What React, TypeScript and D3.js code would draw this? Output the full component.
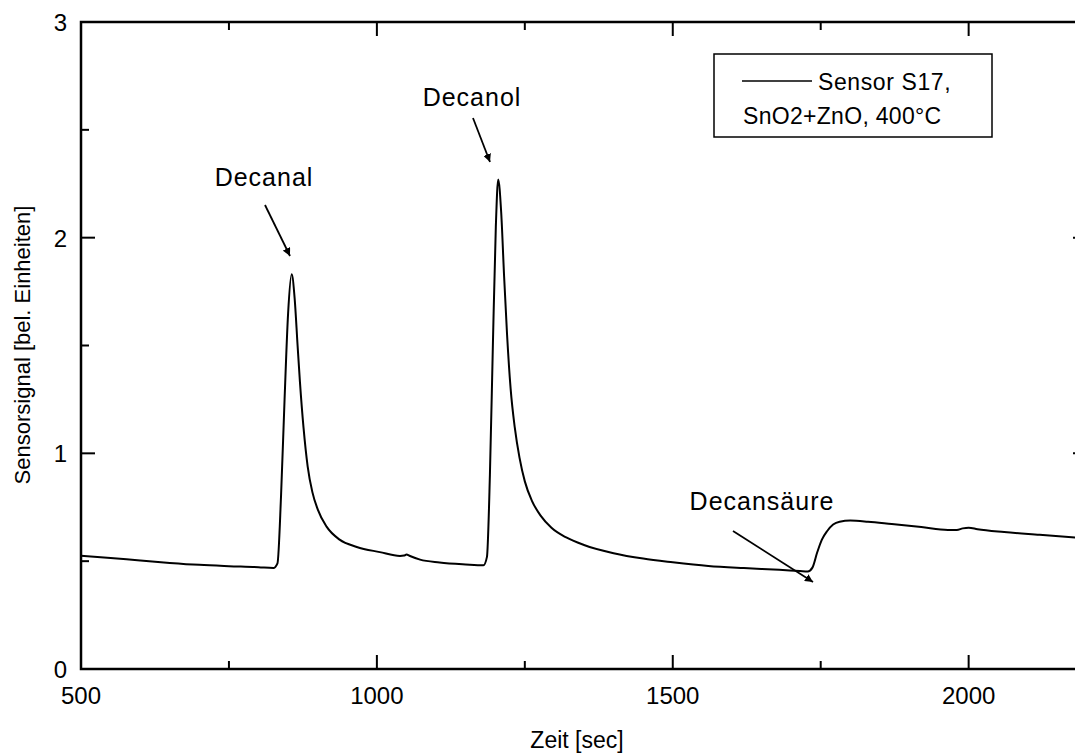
import { useRef, useEffect } from 'react';
import * as d3 from 'd3';

// time [sec]
const zeit = [
  500, 550, 600, 650, 700, 750, 800, 825, 832, 838, 844, 850, 856, 861, 866, 870, 876, 883, 891, 900,
  915, 937, 966, 1005, 1039, 1046, 1050, 1056, 1073, 1106, 1150, 1180, 1186, 1191, 1196, 1201, 1205,
  1210, 1215, 1220, 1226, 1233, 1241, 1250, 1262, 1277, 1295, 1320, 1350, 1400, 1450, 1500, 1560,
  1620, 1680, 1715, 1728, 1736, 1744, 1752, 1761, 1771, 1782, 1800, 1830, 1870, 1920, 1965, 1980,
  1990, 2000, 2015, 2060, 2120, 2200,
];
// sensor signal
const signal = [
  0.525, 0.515, 0.503, 0.492, 0.483, 0.477, 0.472, 0.468, 0.49, 0.8, 1.25, 1.65, 1.83, 1.72, 1.5, 1.33,
  1.12, 0.94, 0.82, 0.74, 0.66, 0.6, 0.566, 0.542, 0.524, 0.526, 0.531, 0.524, 0.507, 0.494, 0.485,
  0.481, 0.52, 0.9, 1.5, 2.05, 2.27, 2.12, 1.82, 1.55, 1.3, 1.12, 0.98, 0.87, 0.78, 0.71, 0.655, 0.61,
  0.575, 0.537, 0.512, 0.495, 0.478, 0.468, 0.46, 0.454, 0.452, 0.47, 0.54, 0.6, 0.64, 0.67, 0.683,
  0.688, 0.683, 0.672, 0.658, 0.645, 0.645, 0.652, 0.655, 0.648, 0.635, 0.622, 0.605,
];

const xTicks = [500, 1000, 1500, 2000];
const xMinor = [750, 1250, 1750];
const yTicks = [0, 1, 2, 3];
const yMinor = [0.5, 1.5, 2.5];

const Chart = () => {
  const ref = useRef<SVGSVGElement>(null);

  useEffect(() => {
    const width = 1075;
    const height = 754;
    const margin = { top: 22, right: -12, bottom: 85, left: 81 };
    const innerWidth = width - margin.left - margin.right;
    const innerHeight = height - margin.top - margin.bottom;
    const font = 'Liberation Sans, Arial, sans-serif';

    const svg = d3.select(ref.current);
    svg.selectAll('*').remove();

    const defs = svg.append('defs');
    defs.append('marker')
      .attr('id', 'arrow')
      .attr('viewBox', '0 0 10 10')
      .attr('refX', 10)
      .attr('refY', 5)
      .attr('markerWidth', 8)
      .attr('markerHeight', 8)
      .attr('markerUnits', 'userSpaceOnUse')
      .attr('orient', 'auto')
      .append('path')
      .attr('d', 'M0,0 L10,5 L0,10 z')
      .attr('fill', '#000');
    defs.append('clipPath')
      .attr('id', 'plot-clip')
      .append('rect')
      .attr('width', innerWidth)
      .attr('height', innerHeight);

    const g = svg.append('g')
      .attr('transform', `translate(${margin.left},${margin.top})`);

    const x = d3.scaleLinear().domain([500, 2200]).range([0, innerWidth]);
    const y = d3.scaleLinear().domain([0, 3]).range([innerHeight, 0]);

    // curve
    const pts = zeit.map((t, i) => [t, signal[i]] as [number, number]);
    const line = d3.line<[number, number]>()
      .x(d => x(d[0]))
      .y(d => y(d[1]))
      .curve(d3.curveMonotoneX);
    g.append('path')
      .datum(pts)
      .attr('clip-path', 'url(#plot-clip)')
      .attr('d', line)
      .attr('fill', 'none')
      .attr('stroke', '#000')
      .attr('stroke-width', 2);

    // frame
    g.append('rect')
      .attr('width', innerWidth)
      .attr('height', innerHeight)
      .attr('fill', 'none')
      .attr('stroke', '#000')
      .attr('stroke-width', 2.5);

    const tickStyle = (sel: any) => sel.attr('stroke', '#000').attr('stroke-width', 2);

    // x ticks, bottom and top, pointing inward
    xTicks.forEach(v => {
      g.append('line').attr('x1', x(v)).attr('x2', x(v)).attr('y1', innerHeight).attr('y2', innerHeight - 14).call(tickStyle);
      g.append('line').attr('x1', x(v)).attr('x2', x(v)).attr('y1', 0).attr('y2', 14).call(tickStyle);
      g.append('text')
        .attr('x', x(v))
        .attr('y', innerHeight + 35)
        .attr('text-anchor', 'middle')
        .attr('font-family', font)
        .attr('font-size', 24)
        .text(v);
    });
    xMinor.forEach(v => {
      g.append('line').attr('x1', x(v)).attr('x2', x(v)).attr('y1', innerHeight).attr('y2', innerHeight - 8).call(tickStyle);
      g.append('line').attr('x1', x(v)).attr('x2', x(v)).attr('y1', 0).attr('y2', 8).call(tickStyle);
    });

    // y ticks, left and right
    yTicks.forEach(v => {
      g.append('line').attr('x1', 0).attr('x2', 14).attr('y1', y(v)).attr('y2', y(v)).call(tickStyle);
      g.append('line').attr('x1', innerWidth).attr('x2', innerWidth - 14).attr('y1', y(v)).attr('y2', y(v)).call(tickStyle);
      g.append('text')
        .attr('x', -14)
        .attr('y', y(v) + 9)
        .attr('text-anchor', 'end')
        .attr('font-family', font)
        .attr('font-size', 24)
        .text(v);
    });
    yMinor.forEach(v => {
      g.append('line').attr('x1', 0).attr('x2', 8).attr('y1', y(v)).attr('y2', y(v)).call(tickStyle);
      g.append('line').attr('x1', innerWidth).attr('x2', innerWidth - 8).attr('y1', y(v)).attr('y2', y(v)).call(tickStyle);
    });

    // axis titles
    svg.append('text')
      .attr('x', 577)
      .attr('y', 748)
      .attr('text-anchor', 'middle')
      .attr('font-family', font)
      .attr('font-size', 23)
      .text('Zeit [sec]');
    svg.append('text')
      .attr('transform', 'translate(30,345) rotate(-90)')
      .attr('text-anchor', 'middle')
      .attr('font-family', font)
      .attr('font-size', 22)
      .text('Sensorsignal [bel. Einheiten]');

    // peak annotations
    const notes = [
      { label: 'Decanal', tx: 264, ty: 186, ax1: 265, ay1: 205, ax2: 290, ay2: 256 },
      { label: 'Decanol', tx: 472, ty: 106, ax1: 473, ay1: 118, ax2: 490, ay2: 162 },
      { label: 'Decansäure', tx: 762, ty: 510, ax1: 733, ay1: 531, ax2: 813, ay2: 582 },
    ];
    notes.forEach(n => {
      svg.append('text')
        .attr('x', n.tx)
        .attr('y', n.ty)
        .attr('text-anchor', 'middle')
        .attr('font-family', font)
        .attr('font-size', 25)
        .attr('letter-spacing', 1)
        .text(n.label);
      svg.append('line')
        .attr('x1', n.ax1).attr('y1', n.ay1)
        .attr('x2', n.ax2).attr('y2', n.ay2)
        .attr('stroke', '#000')
        .attr('stroke-width', 1.8)
        .attr('marker-end', 'url(#arrow)');
    });

    // legend
    const lg = svg.append('g').attr('transform', 'translate(714,54)');
    lg.append('rect')
      .attr('width', 278)
      .attr('height', 83)
      .attr('fill', '#fff')
      .attr('stroke', '#000')
      .attr('stroke-width', 1.5);
    lg.append('line')
      .attr('x1', 28).attr('x2', 98)
      .attr('y1', 27).attr('y2', 27)
      .attr('stroke', '#000')
      .attr('stroke-width', 1.5);
    lg.append('text')
      .attr('x', 104)
      .attr('y', 36)
      .attr('font-family', font)
      .attr('font-size', 23)
      .attr('letter-spacing', 0.6)
      .text('Sensor S17,');
    lg.append('text')
      .attr('x', 29)
      .attr('y', 70)
      .attr('font-family', font)
      .attr('font-size', 23)
      .attr('letter-spacing', 0.3)
      .text('SnO2+ZnO, 400°C');
  }, []);

  return (
    <svg
      ref={ref}
      width={1075}
      height={754}
      style={{ position: 'absolute', left: 0, top: 0, background: '#fff' }}
    ></svg>
  );
};

export default function App() {
  return <Chart />;
}
